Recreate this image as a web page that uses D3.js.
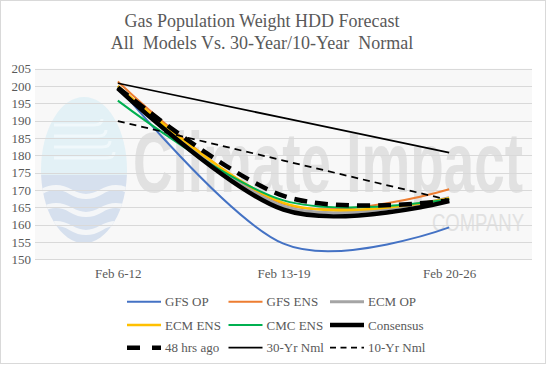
<!DOCTYPE html>
<html><head><meta charset="utf-8">
<script src="https://cdnjs.cloudflare.com/ajax/libs/d3/7.8.5/d3.min.js"></script>
<style>html,body{margin:0;padding:0;background:#fff}svg{display:block}</style>
</head><body>
<script>
const categories = ["Feb 6-12", "Feb 13-19", "Feb 20-26"];
const gfsOp     = [200.0, 154.5, 159.2];
const gfsEns    = [201.3, 166.0, 170.2];
const ecmOp     = [199.5, 165.3, 167.8];
const ecmEns    = [200.0, 166.3, 167.6];
const cmcEns    = [195.8, 167.0, 167.3];
const consensus = [199.3, 164.3, 166.8];
const hrs48     = [199.6, 168.3, 167.0];
const nml30     = [200.8, 190.8, 180.8];
const nml10     = [189.9, 178.5, 167.1];
const yTicks = [150,155,160,165,170,175,180,185,190,195,200,205];
const seriesNames = ["GFS OP","GFS ENS","ECM OP","ECM ENS","CMC ENS","Consensus","48 hrs ago","30-Yr Nml","10-Yr Nml"];

const series = [
  {name: seriesNames[0], values: gfsOp,     color: "#4472c4", w: 2},
  {name: seriesNames[1], values: gfsEns,    color: "#ed7d31", w: 2},
  {name: seriesNames[2], values: ecmOp,     color: "#a5a5a5", w: 3},
  {name: seriesNames[3], values: ecmEns,    color: "#ffc000", w: 2.5},
  {name: seriesNames[4], values: cmcEns,    color: "#00b050", w: 2},
  {name: seriesNames[5], values: consensus, color: "#000000", w: 4.5},
  {name: seriesNames[6], values: hrs48,     color: "#000000", w: 4.5, dash: "13,8"},
  {name: seriesNames[7], values: nml30,     color: "#000000", w: 1.75},
  {name: seriesNames[8], values: nml10,     color: "#000000", w: 1.75, dash: "7,5"}
];

(function(){
const W = 547, H = 365;
const SERIF = "Liberation Serif";
const svg = d3.select("body").append("svg").attr("width", W).attr("height", H);
svg.append("rect").attr("x",0.5).attr("y",0.5).attr("width",W-2).attr("height",H-2)
  .attr("fill","#fff").attr("stroke","#d9d9d9");

const pL = 35, pR = 532, pT = 68.7, pB = 259.3;
const x = d3.scalePoint().domain(categories).range([pL, pR]).padding(0.5);
const y = d3.scaleLinear().domain([150, 205]).range([pB, pT]);

svg.append("rect").attr("x",pL).attr("y",pT).attr("width",pR-pL).attr("height",pB-pT).attr("fill","#f8f8f8");

// watermark logo
const wm = svg.append("g");
const cx = 84, cy = 170, rx = 43, ry = 73;
const clip = svg.append("clipPath").attr("id","ov");
clip.append("ellipse").attr("cx",cx).attr("cy",cy).attr("rx",rx).attr("ry",ry);
const lg = wm.append("g").attr("clip-path","url(#ov)");
lg.append("rect").attr("x",cx-rx).attr("y",cy-ry).attr("width",2*rx).attr("height",ry+5).attr("fill","#e3f1f6");
lg.append("rect").attr("x",cx-rx).attr("y",cy+5).attr("width",2*rx).attr("height",ry).attr("fill","#d6e0ee");
[0,1,2].forEach(i=>{
  const yy = cy+22+i*18;
  lg.append("path").attr("d",`M${cx-rx},${yy} q15,-9 30,0 t30,0 t30,0`).attr("fill","none").attr("stroke","#f4f6f8").attr("stroke-width",5);
});
[0,1,2,3].forEach(i=>{
  const yy = cy-45+i*11;
  lg.append("path").attr("d",`M${cx-30},${yy} h${40+i*4} q8,0 8,-6`).attr("fill","none").attr("stroke","#f0f8fb").attr("stroke-width",3);
});
wm.append("text").attr("transform","translate(133,192) scale(1,1.55)")
  .attr("textLength",390).attr("lengthAdjust","spacingAndGlyphs")
  .attr("font-family","Liberation Sans").attr("font-size",55).attr("font-weight","bold")
  .attr("fill","#e1e1e1").text("Climate Impact");
wm.append("text").attr("transform","translate(432,231) scale(1,1.35)")
  .attr("textLength",92).attr("lengthAdjust","spacingAndGlyphs")
  .attr("font-family","Liberation Sans").attr("font-size",18)
  .attr("fill","#e1e1e1").text("COMPANY");

// gridlines
svg.append("g").selectAll("line").data(yTicks).join("line")
  .attr("x1",pL).attr("x2",pR).attr("y1",d=>Math.round(y(d))+0.5).attr("y2",d=>Math.round(y(d))+0.5)
  .attr("stroke","#d9d9d9").attr("stroke-width",1);

const ya = svg.append("g").attr("transform",`translate(${pL},0)`)
  .call(d3.axisLeft(y).tickValues(yTicks).tickSize(0).tickPadding(4));
ya.attr("font-family",SERIF).attr("font-size",13);
ya.select(".domain").remove();
ya.selectAll("text").attr("font-family",SERIF).attr("font-size",13).attr("fill","#595959");
const xa = svg.append("g").attr("transform",`translate(0,${pB})`)
  .call(d3.axisBottom(x).tickSize(0).tickPadding(9));
xa.attr("font-family",SERIF).attr("font-size",13);
xa.select(".domain").remove();
xa.selectAll("text").attr("font-family",SERIF).attr("font-size",13).attr("fill","#595959");

const smoothLine = d3.line().x((d,i)=>x(categories[i])).y(d=>y(d)).curve(d3.curveCardinal.tension(0));
const straightLine = d3.line().x((d,i)=>x(categories[i])).y(d=>y(d));
series.forEach(s=>{
  const ln = s.name.includes("Nml") ? straightLine : smoothLine;
  svg.append("path").attr("d", ln(s.values)).attr("fill","none")
    .attr("stroke",s.color).attr("stroke-width",s.w)
    .attr("stroke-dasharray", s.dash || null).attr("stroke-linejoin","round");
});

const t = svg.append("text").attr("font-family",SERIF).attr("font-size",18)
  .attr("fill","#595959").attr("text-anchor","middle").style("white-space","pre");
t.append("tspan").attr("x",262).attr("y",27).text("Gas Population Weight HDD Forecast");
t.append("tspan").attr("x",262).attr("y",49).text("All  Models Vs. 30-Year/10-Year  Normal");

const legX = [127, 228.5, 330], legY = [301.7, 325, 347.7];
series.forEach((s,i)=>{
  const c = i%3, r = Math.floor(i/3);
  const g = svg.append("g").attr("transform",`translate(${legX[c]},${legY[r]})`);
  g.append("line").attr("x1",0).attr("x2",34).attr("y1",0).attr("y2",0)
    .attr("stroke",s.color).attr("stroke-width",s.w)
    .attr("stroke-dasharray", s.dash ? (s.name==="48 hrs ago" ? "13,12" : "6,4.5") : null);
  g.append("text").attr("x",38).attr("y",4.5).attr("font-family",SERIF).attr("font-size",13)
    .attr("fill","#595959").text(s.name);
});
})();
</script>
</body></html>
